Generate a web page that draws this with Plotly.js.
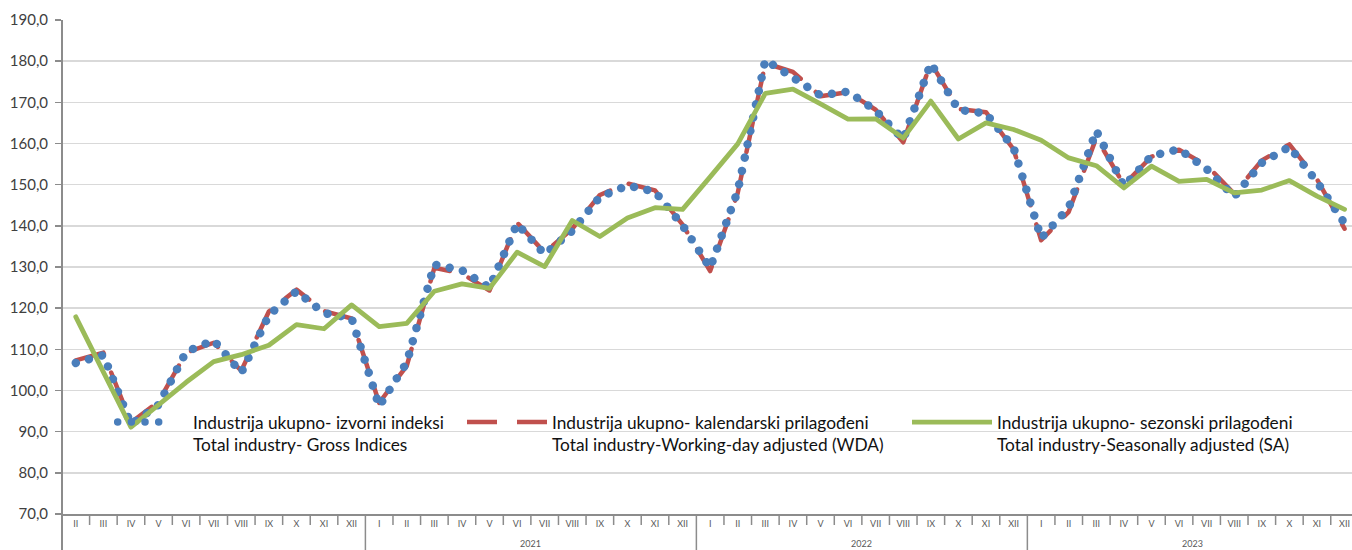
<!DOCTYPE html>
<html>
<head>
<meta charset="utf-8">
<script src="https://cdn.plot.ly/plotly-3.0.1.min.js"></script>
<style>
  html, body { margin: 0; padding: 0; background: #fff; }
  #chart { width: 1352px; height: 550px; }
</style>
</head>
<body>
<div id="chart"></div>
<script>
// ---- data ----
const months = ['II','III','IV','V','VI','VII','VIII','IX','X','XI','XII',
  'I','II','III','IV','V','VI','VII','VIII','IX','X','XI','XII',
  'I','II','III','IV','V','VI','VII','VIII','IX','X','XI','XII',
  'I','II','III','IV','V','VI','VII','VIII','IX','X','XI','XII'];
const years = ['2021', '2022', '2023'];
const yearFirstMonthIndex = [11, 23, 35];

const grossIndices = [106.7, 108.6, 91.8, 96.5, 109.4, 112.2, 104.3, 118.3, 124.1, 118.8, 117.6,
  96.2, 106.8, 130.6, 129.2, 125.0, 140.5, 133.1, 138.8, 147.0, 149.8, 148.3, 140.1,
  129.8, 148.5, 180.3, 176.0, 171.7, 172.6, 168.0, 161.0, 179.5, 168.2, 167.3, 159.0,
  137.0, 144.4, 163.1, 149.6, 157.0, 158.6, 153.8, 147.1, 155.3, 159.2, 150.7, 140.6];

const wdaIndices = [107.3, 109.2, 92.2, 97.3, 109.2, 111.6, 104.8, 119.2, 124.5, 119.3, 117.5,
  97.0, 106.0, 129.8, 128.4, 124.3, 140.8, 133.5, 139.3, 147.5, 150.3, 148.6, 140.3,
  129.0, 148.0, 179.5, 177.4, 171.5, 172.5, 168.2, 160.3, 179.6, 168.4, 167.6, 158.6,
  136.5, 143.4, 161.4, 150.0, 156.8, 158.5, 154.7, 147.8, 155.9, 159.8, 151.3, 139.3];

const saIndices = [117.9, 104.4, 91.1, 96.5, 102.0, 107.0, 108.7, 111.0, 116.0, 115.0, 120.8,
  115.5, 116.3, 124.1, 125.9, 124.8, 133.6, 130.1, 141.3, 137.4, 141.9, 144.4, 144.0,
  151.9, 159.9, 172.2, 173.2, 169.6, 165.9, 166.0, 161.3, 170.3, 161.1, 165.0, 163.4,
  160.8, 156.5, 154.6, 149.2, 154.5, 150.8, 151.3, 148.0, 148.7, 151.0, 147.2, 144.0];

const legendNames = [
  'Industrija ukupno- izvorni indeksi<br>Total industry- Gross Indices',
  'Industrija ukupno- kalendarski prilagođeni<br>Total industry-Working-day adjusted (WDA)',
  'Industrija ukupno- sezonski prilagođeni<br>Total industry-Seasonally adjusted (SA)'
];

// ---- chart ----
const FONT = 'Lato, "Open Sans", sans-serif';
const idx = months.map((m, i) => i);
const plotH = 494, plotW = 1290, leftM = 62;
const px = p => p / plotH;

const traces = [
  { x: idx, y: wdaIndices, type: 'scatter', mode: 'lines', name: legendNames[1], legend: 'legend2',
    line: { color: '#C0504D', width: 4.5, dash: '30px,20px' } },
  { x: idx, y: grossIndices, type: 'scatter', mode: 'lines', name: legendNames[0], legend: 'legend',
    line: { color: '#4A7EBB', width: 8.5, dash: '0.01px,13.6px' } },
  { x: idx, y: saIndices, type: 'scatter', mode: 'lines', name: legendNames[2], legend: 'legend3',
    line: { color: '#9BBB59', width: 4.8 } }
];

const shapes = [];
for (let i = 0; i < months.length - 1; i++) {
  const isYear = yearFirstMonthIndex.indexOf(i + 1) >= 0;
  shapes.push({ type: 'line', xref: 'x', yref: 'paper', x0: i + 0.5, x1: i + 0.5,
    y0: 0, y1: -px(isYear ? 36 : 11), line: { color: '#8c8c8c', width: 1.5 } });
}
shapes.push({ type: 'line', xref: 'paper', yref: 'paper', x0: 0, x1: 0, y0: 1, y1: -px(36),
  line: { color: '#8c8c8c', width: 2 } });

const annotations = years.map((yr, k) => ({
  text: yr, xref: 'x', yref: 'paper', x: yearFirstMonthIndex[k] + 5.5, y: -px(36),
  yanchor: 'bottom', showarrow: false, borderpad: 0,
  font: { family: FONT, size: 9, color: '#595959' }
}));

const textX = [193, 552, 997];
const ITEMW = 80;
const legendBase = {
  orientation: 'h', xanchor: 'left', y: 0.222, yanchor: 'top',
  bgcolor: 'rgba(0,0,0,0)', borderwidth: 0,
  font: { family: FONT, size: 17.3, color: '#111' },
  itemwidth: ITEMW, valign: 'top'
};
const legendAt = tx => Object.assign({}, legendBase, { x: (tx - (ITEMW + 10) - leftM) / plotW });

const layout = {
  width: 1352, height: 550,
  margin: { l: 62, r: 0, t: 20, b: 36, pad: 0 },
  paper_bgcolor: '#fff', plot_bgcolor: '#fff',
  separators: ',.',
  showlegend: true,
  font: { family: FONT },
  xaxis: {
    range: [-0.5, 46.27], tickvals: idx, ticktext: months, ticks: '',
    tickfont: { family: FONT, size: 9, color: '#595959' },
    showgrid: false, zeroline: false, showline: true, linecolor: '#8c8c8c', linewidth: 2,
    fixedrange: true
  },
  yaxis: {
    range: [70, 190], dtick: 10, tick0: 70, tickformat: '.1f',
    tickfont: { family: FONT, size: 15, color: '#404040' },
    ticks: 'outside', ticklen: 6, tickcolor: '#8c8c8c', tickwidth: 1.5,
    ticklabelstandoff: 4,
    showgrid: true, gridcolor: '#d9d9d9', gridwidth: 1.5,
    zeroline: false, showline: false, fixedrange: true
  },
  legend: legendAt(textX[0]),
  legend2: legendAt(textX[1]),
  legend3: legendAt(textX[2]),
  shapes: shapes,
  annotations: annotations
};

function setStyle(el, prop, val) {
  el.style.setProperty(prop, val, 'important');
  el.setAttribute(prop, val);
}

function restyleSvg(gd) {
  gd.querySelectorAll('.scatterlayer .js-line').forEach(p => {
    setStyle(p, 'stroke-linecap', 'round');
    setStyle(p, 'stroke-linejoin', 'round');
  });
  // legend sample lines: lengthen / place like the reference
  gd.querySelectorAll('.infolayer g.traces').forEach(g => {
    const t = g.querySelector('text.legendtext');
    if (!t) return;
    const tx = parseFloat(t.getAttribute('x')) || 0;
    const s = t.textContent || '';
    g.querySelectorAll('.legendlines path').forEach(p => {
      setStyle(p, 'stroke-linecap', 'round');
      if (s.indexOf('izvorni') >= 0) {
        p.setAttribute('d', 'M' + (tx - 75.3) + ',0h54.6');
        setStyle(p, 'stroke-dasharray', '0.01 13.65');
        setStyle(p, 'stroke-width', '7.5');
      } else if (s.indexOf('kalendarski') >= 0) {
        p.setAttribute('d', 'M' + (tx - 74.75) + ',0h68');
        setStyle(p, 'stroke-dasharray', '42.5 25.25 0.01 100');
      } else {
        p.setAttribute('d', 'M' + (tx - 74.5) + ',0h65');
        setStyle(p, 'stroke-dasharray', 'none');
      }
    });
  });
}

Plotly.newPlot('chart', traces, layout, { staticPlot: true, displayModeBar: false }).then(gd => {
  restyleSvg(gd);
  requestAnimationFrame(() => restyleSvg(gd));
  setTimeout(() => restyleSvg(gd), 50);
});
</script>
</body>
</html>
